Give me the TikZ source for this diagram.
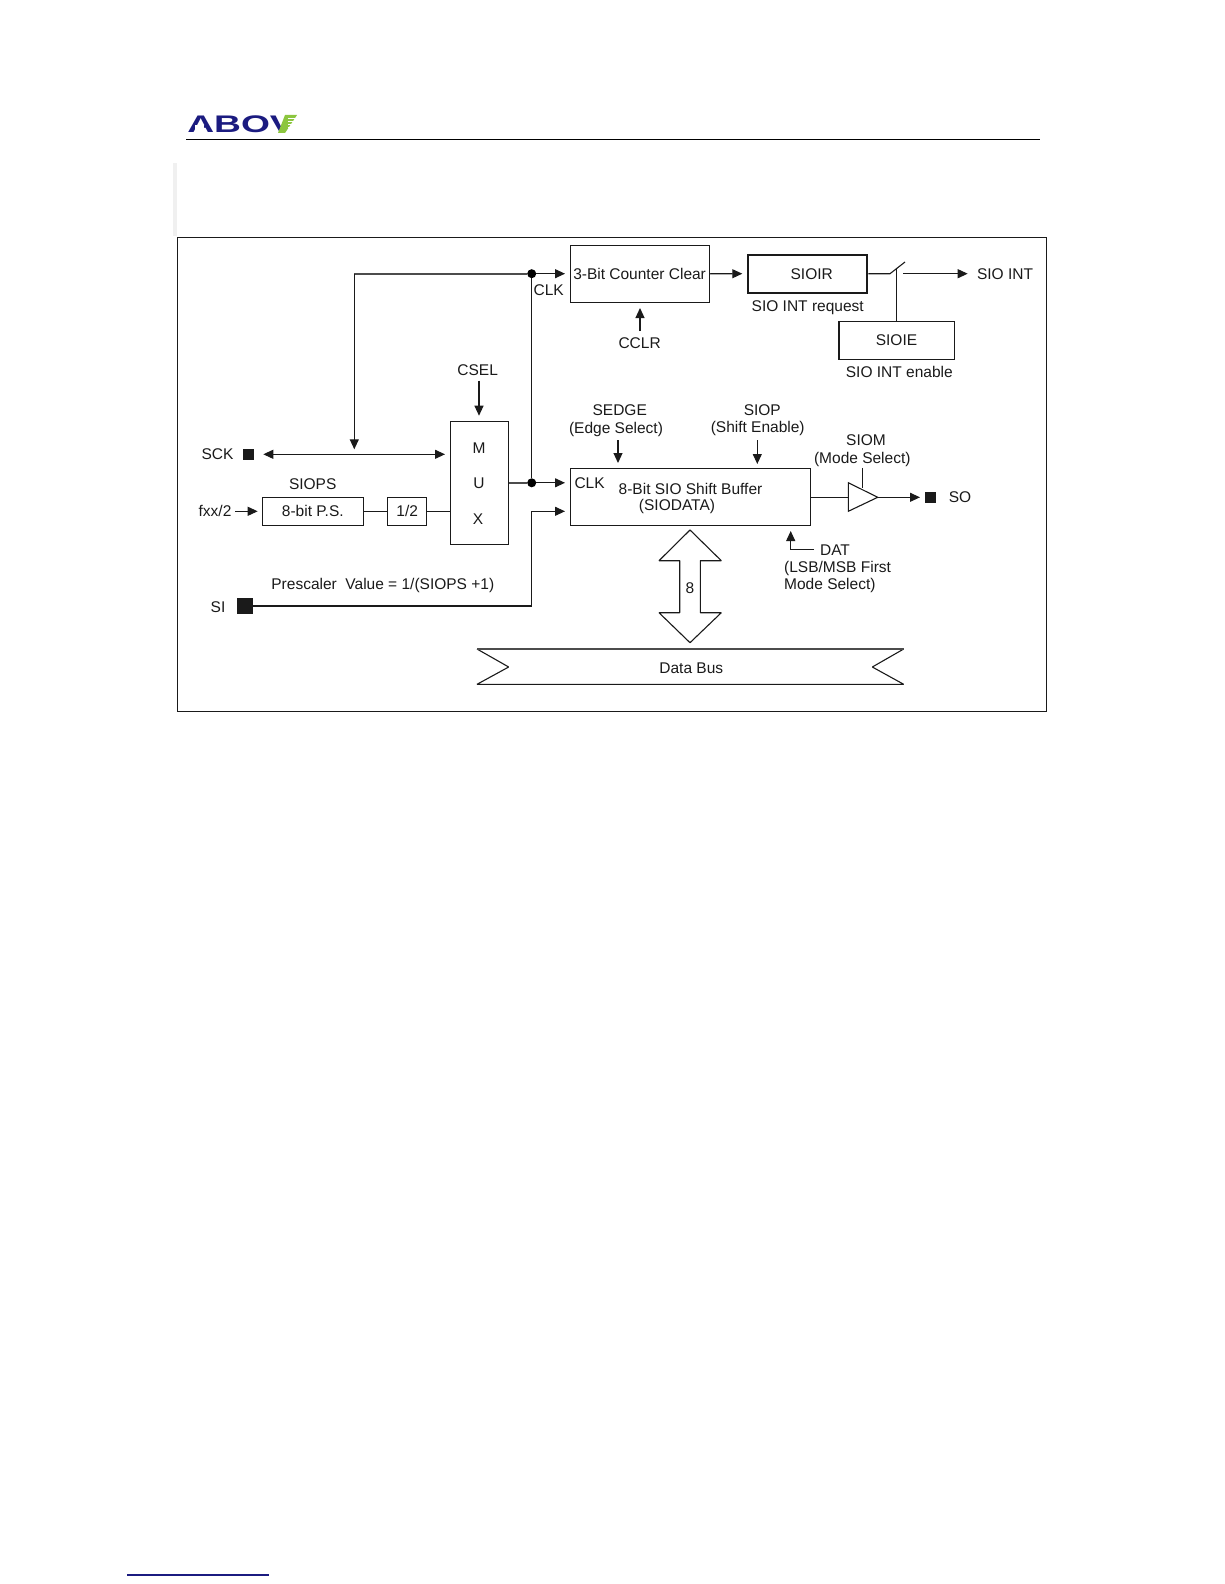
\documentclass[tikz,border=0pt]{standalone}
\usepackage{fontspec}
\setmainfont{Liberation Sans}
\usetikzlibrary{arrows.meta}
\definecolor{ink}{HTML}{1A1A1A}
\definecolor{navy}{HTML}{1B1B80}
\definecolor{leaf}{HTML}{8CC63F}
\tikzset{
  >={Triangle[length=10pt,width=9pt]},
  wire/.style={line width=1.1pt,draw=ink},
  heavy/.style={line width=1.6pt,draw=black!70},
  lbl/.style={inner sep=0pt,text=ink,yshift=-0.8pt,font=\fontsize{15.5}{18}\selectfont},
  blk/.style={draw=ink,line width=1.1pt,inner sep=0pt,lbl,yshift=0.8pt},
  pad/.style={fill=ink,inner sep=0pt},
  dot/.style={circle,fill=black,inner sep=0pt,minimum size=9pt}
}
\begin{document}
\begin{tikzpicture}[x=1pt,y=-1pt]
\useasboundingbox (0,0) rectangle (1224,1584);
% page furniture
\fill[black!6] (173,163) rectangle (177,236);
\draw[line width=1pt] (186,139.5) -- (1040,139.5);
\draw[navy,line width=1.2pt] (127,1575) -- (269,1575);
\node[inner sep=0pt,text=navy,font=\bfseries\fontsize{24}{24}\selectfont,xscale=1.55,anchor=west] (Logo) at (187,124.5) {ABOV};
\fill[white] (195,125.5) rectangle (204,130);
\fill[leaf] (285,115) -- (297,115) -- (285,133) -- (278,133) -- cycle;
\foreach \y in {118,121,124,127,130} \draw[white,line width=0.7pt] (288,\y) -- (298,\y);
% frame
\draw[line width=1.1pt,draw=ink] (177.5,237.5) rectangle (1046.7,711.7);
% boxes
\node[blk,minimum width=139pt,minimum height=57pt] (Cnt) at (639.8,273.8) {};
\node[lbl] (CntT) at (639.6,273) {3-Bit Counter Clear};
\node[blk,line width=2pt,minimum width=119pt,minimum height=38pt] (Ir) at (807.8,273.7) {};
\node[lbl] (IrT) at (811.7,273.5) {SIOIR};
\node[blk,line width=1.6pt,minimum width=115.6pt,minimum height=38pt] (Ie) at (896.5,340.3) {SIOIE};
\node[blk,minimum width=58pt,minimum height=123pt] (Mux) at (479.3,482.8) {};
\node[lbl] (MuxM) at (479,447) {M};
\node[lbl] (MuxU) at (479,482.5) {U};
\node[lbl] (MuxX) at (478,518) {X};
\node[blk,minimum width=101pt,minimum height=28pt] (Ps) at (312.8,511.3) {8-bit P.S.};
\node[blk,minimum width=39pt,minimum height=28pt] (Half) at (407.2,511.3) {1/2};
\node[blk,minimum width=240.4pt,minimum height=57pt] (Buf) at (690.5,496.8) {};
\node[lbl] (BufA) at (690.5,488.3) {8-Bit SIO Shift Buffer};
\node[lbl] (BufB) at (677,506) {(SIODATA)};
\node[lbl,anchor=west] (BufClk) at (574.3,482.7) {CLK};
% pads
\node[pad,minimum size=11pt] (Sck) at (248.5,454.5) {};
\node[pad,minimum size=15.7pt] (Si) at (244.9,606) {};
\node[pad,minimum size=10.4pt] (So) at (930.5,497.5) {};
% labels
\node[lbl] (SckT) at (217.5,453.5) {SCK};
\node[lbl] (SiT) at (218,606.7) {SI};
\node[lbl] (SoT) at (960,496) {SO};
\node[lbl] (FxxT) at (215,510) {fxx/2};
\node[lbl] (SiopsT) at (312.7,483.3) {SIOPS};
\node[lbl] (PreT) at (382.8,584.3) {Prescaler\ \ Value = 1/(SIOPS +1)};
\node[lbl] (Csel) at (477.7,369.3) {CSEL};
\node[lbl] (ClkT) at (548.7,289.7) {CLK};
\node[lbl] (Cclr) at (639.6,342.7) {CCLR};
\node[lbl] (IrReq) at (807.7,306.5) {SIO INT request};
\node[lbl] (IeEn) at (899.3,371.5) {SIO INT enable};
\node[lbl] (IntT) at (1005,273) {SIO INT};
\node[lbl] (Sedge) at (619.7,409) {SEDGE};
\node[lbl] (EdgeS) at (616,428.3) {(Edge Select)};
\node[lbl] (Siop) at (762.3,409) {SIOP};
\node[lbl] (ShiftE) at (757.7,428) {(Shift Enable)};
\node[lbl] (Siom) at (866,439) {SIOM};
\node[lbl] (ModeS) at (862.3,458.3) {(Mode Select)};
\node[lbl] (Dat) at (835,549.3) {DAT};
\node[lbl,anchor=west] (DatA) at (784,567.3) {(LSB/MSB First};
\node[lbl,anchor=west] (DatB) at (784,585) {Mode Select)};
% junctions
\node[dot] (J1) at (531.7,273.7) {};
\node[dot] (J2) at (531.7,482.8) {};
% free ends
\coordinate (ClkIn) at (565,273.7);
\coordinate (BufClkIn) at (565,482.8);
\coordinate (BufSiIn) at (565,511.3);
\coordinate (SckL) at (263.3,454.3);
\coordinate (SckR) at (445,454.3);
\coordinate (Tap) at (354.3,449.3);
\coordinate (FxxA) at (235,511.3);
\coordinate (FxxB) at (257.7,511.3);
\coordinate (CclrA) at (640,331);
\coordinate (CclrB) at (640,308);
\coordinate (IrIn) at (742.3,273.7);
\coordinate (SwA) at (890,273.7);
\coordinate (SwB) at (905,262);
\coordinate (SwC) at (896.7,268.6);
\coordinate (SwD) at (903.3,273.7);
\coordinate (IntA) at (967.7,273.7);
\coordinate (TriL) at (848.3,497.3);
\coordinate (TriT) at (848.3,482.7);
\coordinate (TriB) at (848.3,511.3);
\coordinate (TriR) at (877.7,497.3);
\coordinate (SoA) at (920,497.3);
\coordinate (CselA) at (479,380.7);
\coordinate (CselB) at (479,415.7);
% top clock
\draw[wire,->] (J1) -- (ClkIn);
\draw[wire] (J1) -- (J2);
\draw[heavy] (J1) -- (Tap |- J1);
\draw[wire,->] (Tap |- J1) -- (Tap);
\draw[wire,<->] (SckL) -- (SckR);
\draw[wire,->] (CclrA) -- (CclrB);
\draw[wire,->] (Cnt.east) -- (IrIn);
\draw[wire] (Ir.east) -- (SwA) -- (SwB);
\draw[wire] (SwC) -- (SwC |- Ie.north);
\draw[wire,->] (SwD) -- (IntA);
% mux
\draw[wire,->] (CselA) -- (CselB);
\draw[wire,->] (FxxA) -- (FxxB);
\draw[wire] (Ps.east) -- (Half.west);
\draw[wire] (Half.east) -- (Half.east -| Mux.west);
\draw[heavy] (Mux.east) -- (J2);
\draw[wire,->] (J2) -- (BufClkIn);
\draw[wire,->] (Si.east) -| (BufSiIn -| J2) -- (BufSiIn);
% shift buffer
\coordinate (SedgeA) at (618,440);
\coordinate (SedgeB) at (618,463);
\coordinate (SiopA) at (757.3,440);
\coordinate (SiopB) at (757.3,464);
\draw[wire,->] (SedgeA) -- (SedgeB);
\draw[wire,->] (SiopA) -- (SiopB);
\draw[wire] (Buf.east |- TriL) -- (TriL);
\draw[wire,fill=white] (TriT) -- (TriR) -- (TriB) -- cycle;
\coordinate (EnB) at (862.7,488);
\draw[wire] (EnB |- Buf.north) -- (EnB);
\draw[wire,->] (TriR) -- (SoA);
\coordinate (DatB0) at (814,549.3);
\coordinate (DatC) at (790.7,549.3);
\coordinate (DatD) at (790.7,531);
\draw[wire,->] (DatB0) -- (DatC) -- (DatD);
% bus
\draw[wire,line join=bevel] (690,530) -- (721.3,560.7) -- (700.3,560.7) -- (700.3,612.7) -- (721.3,612.7) -- (690,642.7) -- (659,612.7) -- (679.7,612.7) -- (679.7,560.7) -- (659,560.7) -- cycle;
\node[lbl] (Eight) at (690,587.3) {8};
\draw[wire,line join=bevel] (903.7,649) -- (872.3,667) -- (903.7,684.3) -- (477,684.3) -- (508.7,667) -- (477,649);
\draw[heavy] (477,649) -- (903.7,649);
\node[lbl] (Bus) at (691.3,667.7) {Data Bus};
\end{tikzpicture}
\end{document}
